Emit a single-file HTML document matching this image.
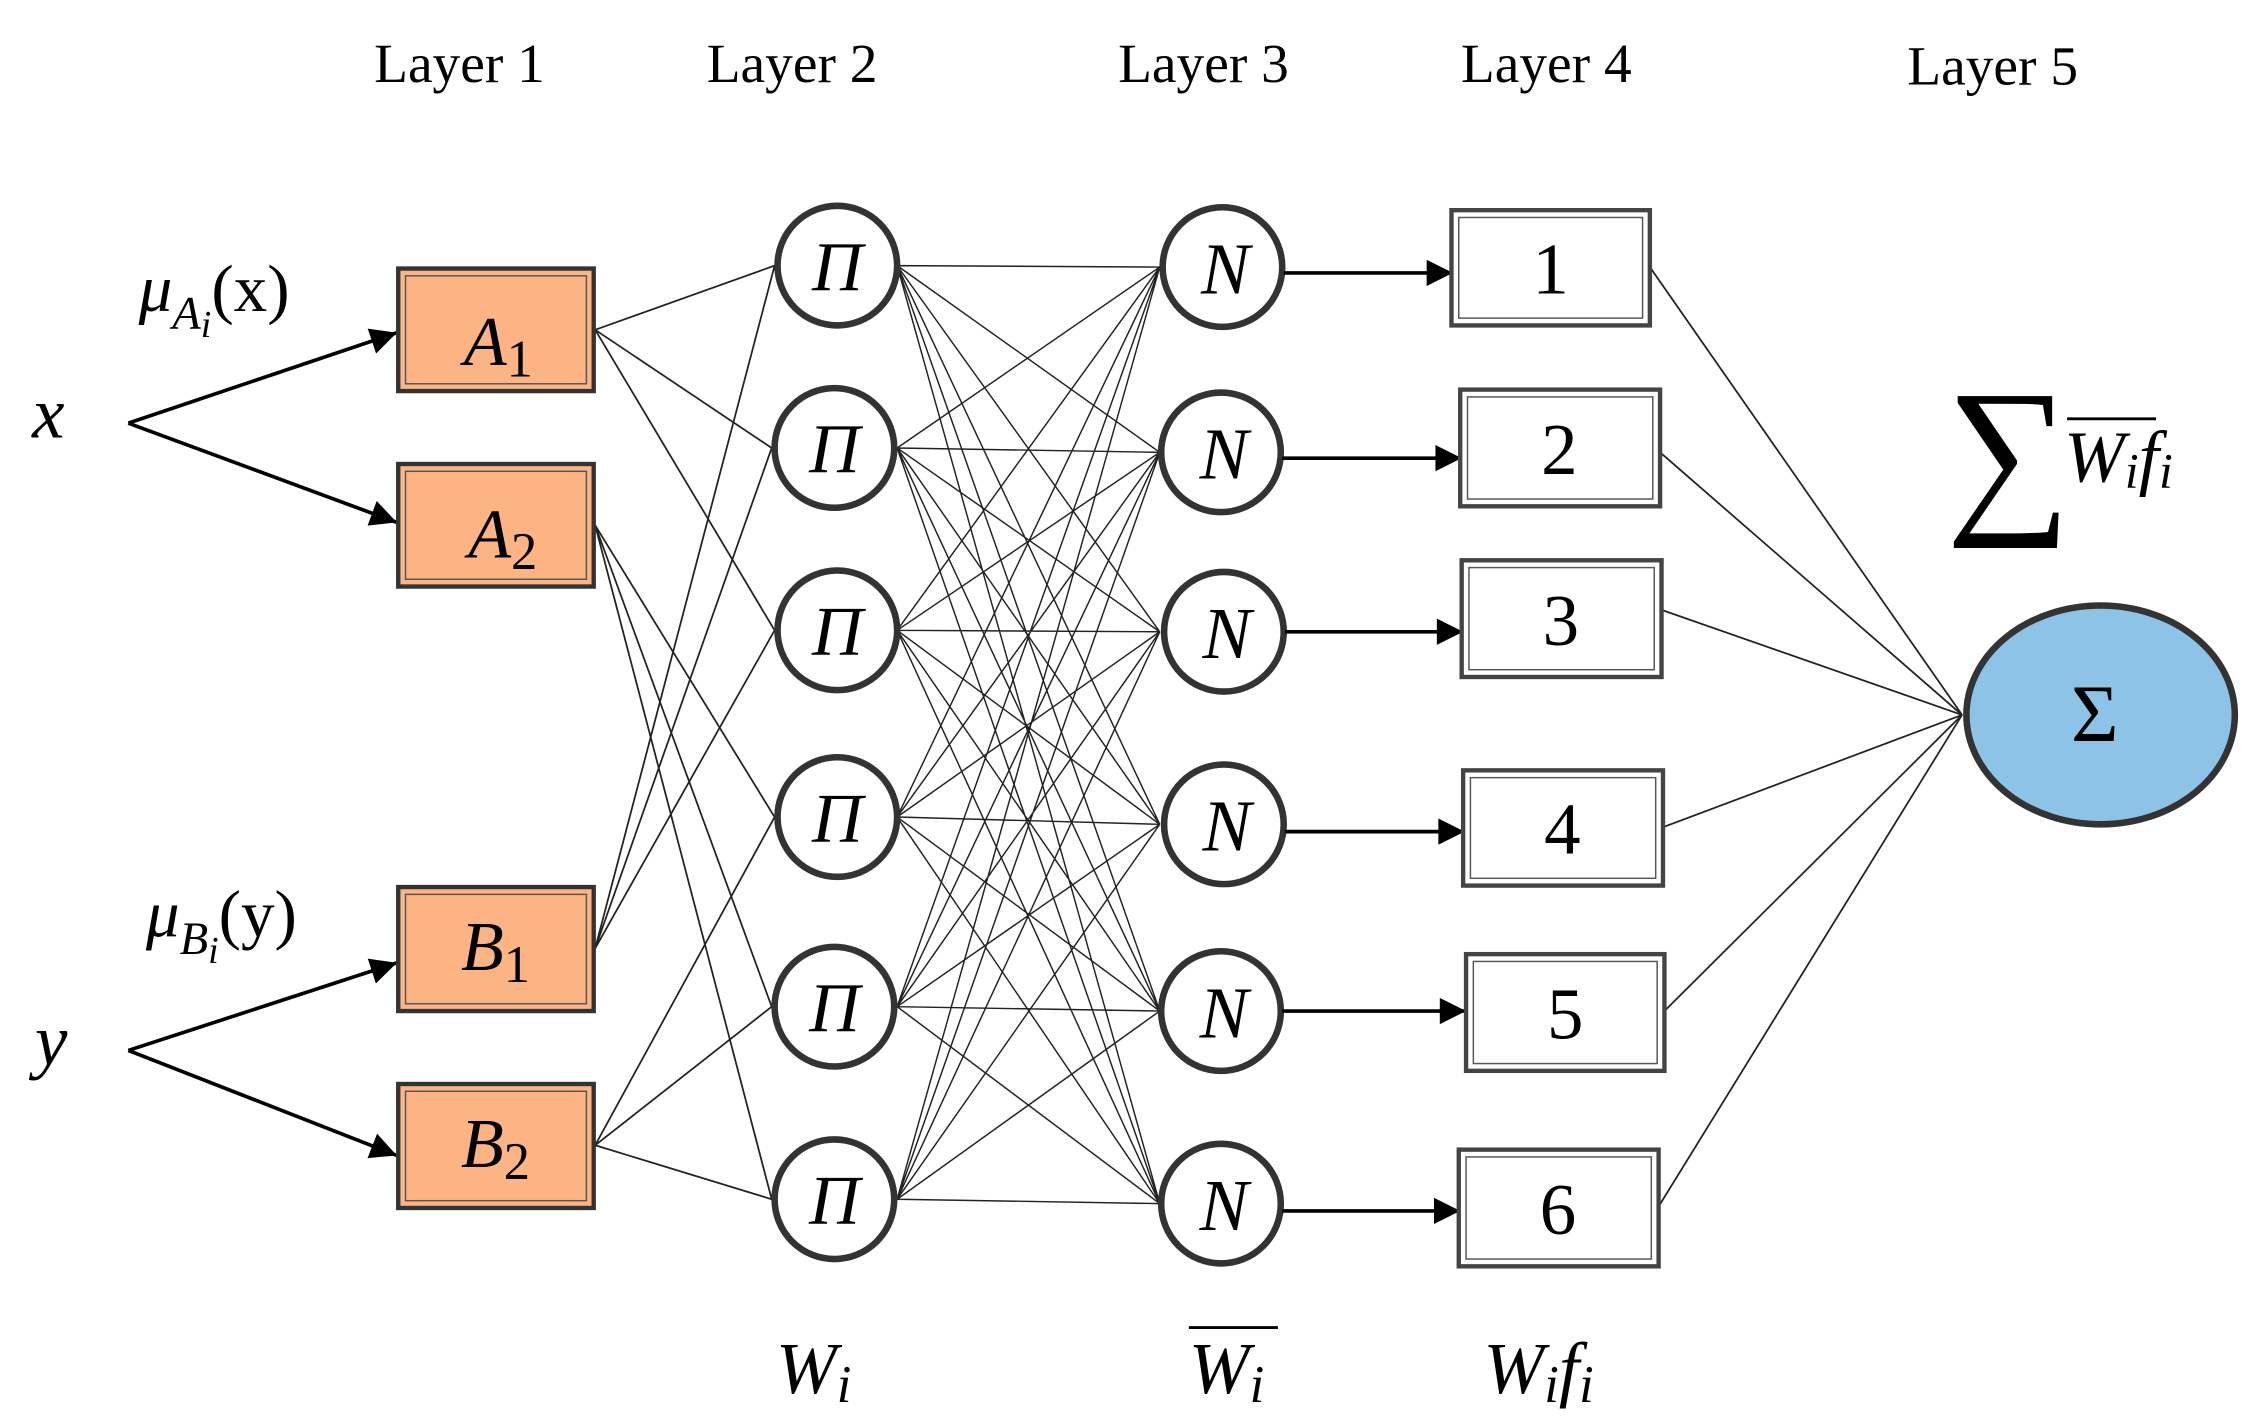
<!DOCTYPE html>
<html><head><meta charset="utf-8"><style>
html,body{margin:0;padding:0;background:#fff;}
svg{display:block;}
text{font-family:"Liberation Serif","DejaVu Serif",serif;fill:#000;}
.it{font-style:italic;}
</style></head><body>
<svg width="2264" height="1424" viewBox="0 0 1552 976" xmlns="http://www.w3.org/2000/svg">
<defs>
<marker id="ah2" viewBox="0 0 10 10" markerWidth="22" markerHeight="18" refX="10" refY="5" orient="auto" markerUnits="userSpaceOnUse">
<path d="M0,0 L10,5 L0,10 Z" fill="#000"/>
</marker>
</defs>

<g font-size="38">
<text x="315" y="56" text-anchor="middle">Layer 1</text>
<text x="543" y="56" text-anchor="middle">Layer 2</text>
<text x="825" y="56" text-anchor="middle">Layer 3</text>
<text x="1060" y="56" text-anchor="middle">Layer 4</text>
<text x="1366" y="58" text-anchor="middle">Layer 5</text>
</g>

<text x="22" y="300" font-size="50" class="it">x</text>
<text x="24" y="730" font-size="50" class="it">y</text>
<g stroke="#000" stroke-width="2.5" fill="none">
<line x1="88" y1="290" x2="272" y2="228" marker-end="url(#ah2)"/>
<line x1="88" y1="290" x2="272" y2="358" marker-end="url(#ah2)"/>
<line x1="88" y1="720" x2="272" y2="660" marker-end="url(#ah2)"/>
<line x1="88" y1="720" x2="272" y2="792" marker-end="url(#ah2)"/>
</g>
<text x="95" y="213" font-size="46"><tspan class="it">μ</tspan><tspan class="it" font-size="32" dy="12">A</tspan><tspan class="it" font-size="26" dy="6">i</tspan><tspan dy="-18">(x)</tspan></text>
<text x="100" y="642" font-size="46"><tspan class="it">μ</tspan><tspan class="it" font-size="32" dy="12">B</tspan><tspan class="it" font-size="26" dy="6">i</tspan><tspan dy="-18">(y)</tspan></text>

<g stroke="#222" stroke-width="1.2">
<line x1="408" y1="226" x2="531" y2="182"/>
<line x1="408" y1="226" x2="529" y2="307"/>
<line x1="408" y1="226" x2="531" y2="432"/>
<line x1="408" y1="360" x2="531" y2="560"/>
<line x1="408" y1="360" x2="529" y2="690"/>
<line x1="408" y1="360" x2="529" y2="822"/>
<line x1="408" y1="650" x2="531" y2="182"/>
<line x1="408" y1="650" x2="529" y2="307"/>
<line x1="408" y1="650" x2="531" y2="432"/>
<line x1="408" y1="785" x2="531" y2="560"/>
<line x1="408" y1="785" x2="529" y2="690"/>
<line x1="408" y1="785" x2="529" y2="822"/>
</g>

<g stroke="#222" stroke-width="1">
<path d="M615,182 L795,183 M615,182 L795,310 M615,182 L795,433 M615,182 L795,565 M615,182 L795,693 M615,182 L795,825
M615,307 L795,183 M615,307 L795,310 M615,307 L795,433 M615,307 L795,565 M615,307 L795,693 M615,307 L795,825
M615,432 L795,183 M615,432 L795,310 M615,432 L795,433 M615,432 L795,565 M615,432 L795,693 M615,432 L795,825
M615,560 L795,183 M615,560 L795,310 M615,560 L795,433 M615,560 L795,565 M615,560 L795,693 M615,560 L795,825
M615,690 L795,183 M615,690 L795,310 M615,690 L795,433 M615,690 L795,565 M615,690 L795,693 M615,690 L795,825
M615,822 L795,183 M615,822 L795,310 M615,822 L795,433 M615,822 L795,565 M615,822 L795,693 M615,822 L795,825"/>
</g>

<g fill="#FDB484" stroke="#333" stroke-width="3">
<rect x="273" y="184" width="134" height="84"/>
<rect x="273" y="318" width="134" height="84"/>
<rect x="273" y="608" width="134" height="85"/>
<rect x="273" y="743" width="134" height="85"/>
</g>
<g fill="none" stroke="#555" stroke-width="1">
<rect x="278" y="189" width="124" height="74"/>
<rect x="278" y="323" width="124" height="74"/>
<rect x="278" y="613" width="124" height="75"/>
<rect x="278" y="748" width="124" height="75"/>
</g>
<g font-size="48" class="it">
<text x="318" y="250"><tspan>A</tspan><tspan font-size="36" font-style="normal" dy="8">1</tspan></text>
<text x="321" y="382"><tspan>A</tspan><tspan font-size="36" font-style="normal" dy="8">2</tspan></text>
<text x="316" y="665"><tspan>B</tspan><tspan font-size="36" font-style="normal" dy="8">1</tspan></text>
<text x="316" y="800"><tspan>B</tspan><tspan font-size="36" font-style="normal" dy="8">2</tspan></text>
</g>

<g fill="#fff" stroke="#333" stroke-width="4.5">
<circle cx="574" cy="182" r="41"/><circle cx="572" cy="307" r="41"/><circle cx="574" cy="432" r="41"/>
<circle cx="574" cy="560" r="41"/><circle cx="572" cy="690" r="41"/><circle cx="572" cy="822" r="41"/>
</g>
<g font-size="48" class="it" text-anchor="middle">
<text x="574" y="199">Π</text><text x="572" y="324">Π</text><text x="574" y="449">Π</text>
<text x="574" y="577">Π</text><text x="572" y="707">Π</text><text x="572" y="839">Π</text>
</g>

<g fill="#fff" stroke="#333" stroke-width="4.5">
<circle cx="838" cy="183" r="41"/><circle cx="837" cy="310" r="41"/><circle cx="839" cy="433" r="41"/>
<circle cx="839" cy="565" r="41"/><circle cx="837" cy="693" r="41"/><circle cx="837" cy="825" r="41"/>
</g>
<g font-size="50" class="it" text-anchor="middle">
<text x="840" y="201">N</text><text x="839" y="328">N</text><text x="841" y="451">N</text>
<text x="841" y="583">N</text><text x="839" y="711">N</text><text x="839" y="843">N</text>
</g>

<g stroke="#000" stroke-width="2.5">
<line x1="880" y1="187" x2="996" y2="187" marker-end="url(#ah2)"/>
<line x1="879" y1="314" x2="1002" y2="314" marker-end="url(#ah2)"/>
<line x1="881" y1="433" x2="1003" y2="433" marker-end="url(#ah2)"/>
<line x1="881" y1="570" x2="1004" y2="570" marker-end="url(#ah2)"/>
<line x1="879" y1="693" x2="1005" y2="693" marker-end="url(#ah2)"/>
<line x1="879" y1="830" x2="1001" y2="830" marker-end="url(#ah2)"/>
</g>

<g stroke="#222" stroke-width="1.2">
<line x1="1131" y1="183" x2="1345" y2="490"/>
<line x1="1138" y1="310" x2="1345" y2="490"/>
<line x1="1139" y1="418" x2="1345" y2="490"/>
<line x1="1140" y1="567" x2="1345" y2="490"/>
<line x1="1141" y1="693" x2="1345" y2="490"/>
<line x1="1137" y1="827" x2="1345" y2="490"/>
</g>

<g fill="#fff" stroke="#444" stroke-width="3">
<rect x="995" y="144" width="136" height="79"/>
<rect x="1001" y="267" width="137" height="80"/>
<rect x="1002" y="384" width="137" height="80"/>
<rect x="1003" y="528" width="137" height="79"/>
<rect x="1005" y="654" width="136" height="80"/>
<rect x="1000" y="788" width="137" height="80"/>
</g>
<g fill="none" stroke="#555" stroke-width="1">
<rect x="1000" y="149" width="126" height="69"/>
<rect x="1006" y="272" width="127" height="70"/>
<rect x="1007" y="389" width="127" height="70"/>
<rect x="1008" y="533" width="127" height="69"/>
<rect x="1010" y="659" width="126" height="70"/>
<rect x="1005" y="793" width="127" height="70"/>
</g>
<g font-size="50" text-anchor="middle">
<text x="1063" y="201">1</text><text x="1069" y="325">2</text><text x="1070" y="442">3</text>
<text x="1071" y="585">4</text><text x="1073" y="712">5</text><text x="1068" y="846">6</text>
</g>

<ellipse cx="1440" cy="490" rx="92" ry="75" fill="#8DC3E6" stroke="#333" stroke-width="4.5"/>
<text x="1436" y="508" font-size="56" text-anchor="middle">Σ</text>

<text x="1334" y="350" font-size="120">∑</text>
<line x1="1417" y1="287" x2="1478" y2="287" stroke="#000" stroke-width="2"/>
<text x="1415" y="330" font-size="50" class="it">W<tspan font-size="34" dy="4">i</tspan><tspan dy="-4">f</tspan><tspan font-size="34" dy="4">i</tspan></text>

<text x="532" y="955" font-size="50" class="it">W<tspan font-size="36" dy="6">i</tspan></text>
<line x1="815" y1="910" x2="876" y2="910" stroke="#000" stroke-width="2"/>
<text x="815" y="955" font-size="50" class="it">W<tspan font-size="36" dy="6">i</tspan></text>
<text x="1017" y="955" font-size="50" class="it">W<tspan font-size="36" dy="6">i</tspan><tspan dy="-6">f</tspan><tspan font-size="36" dy="6">i</tspan></text>
</svg>
</body></html>
